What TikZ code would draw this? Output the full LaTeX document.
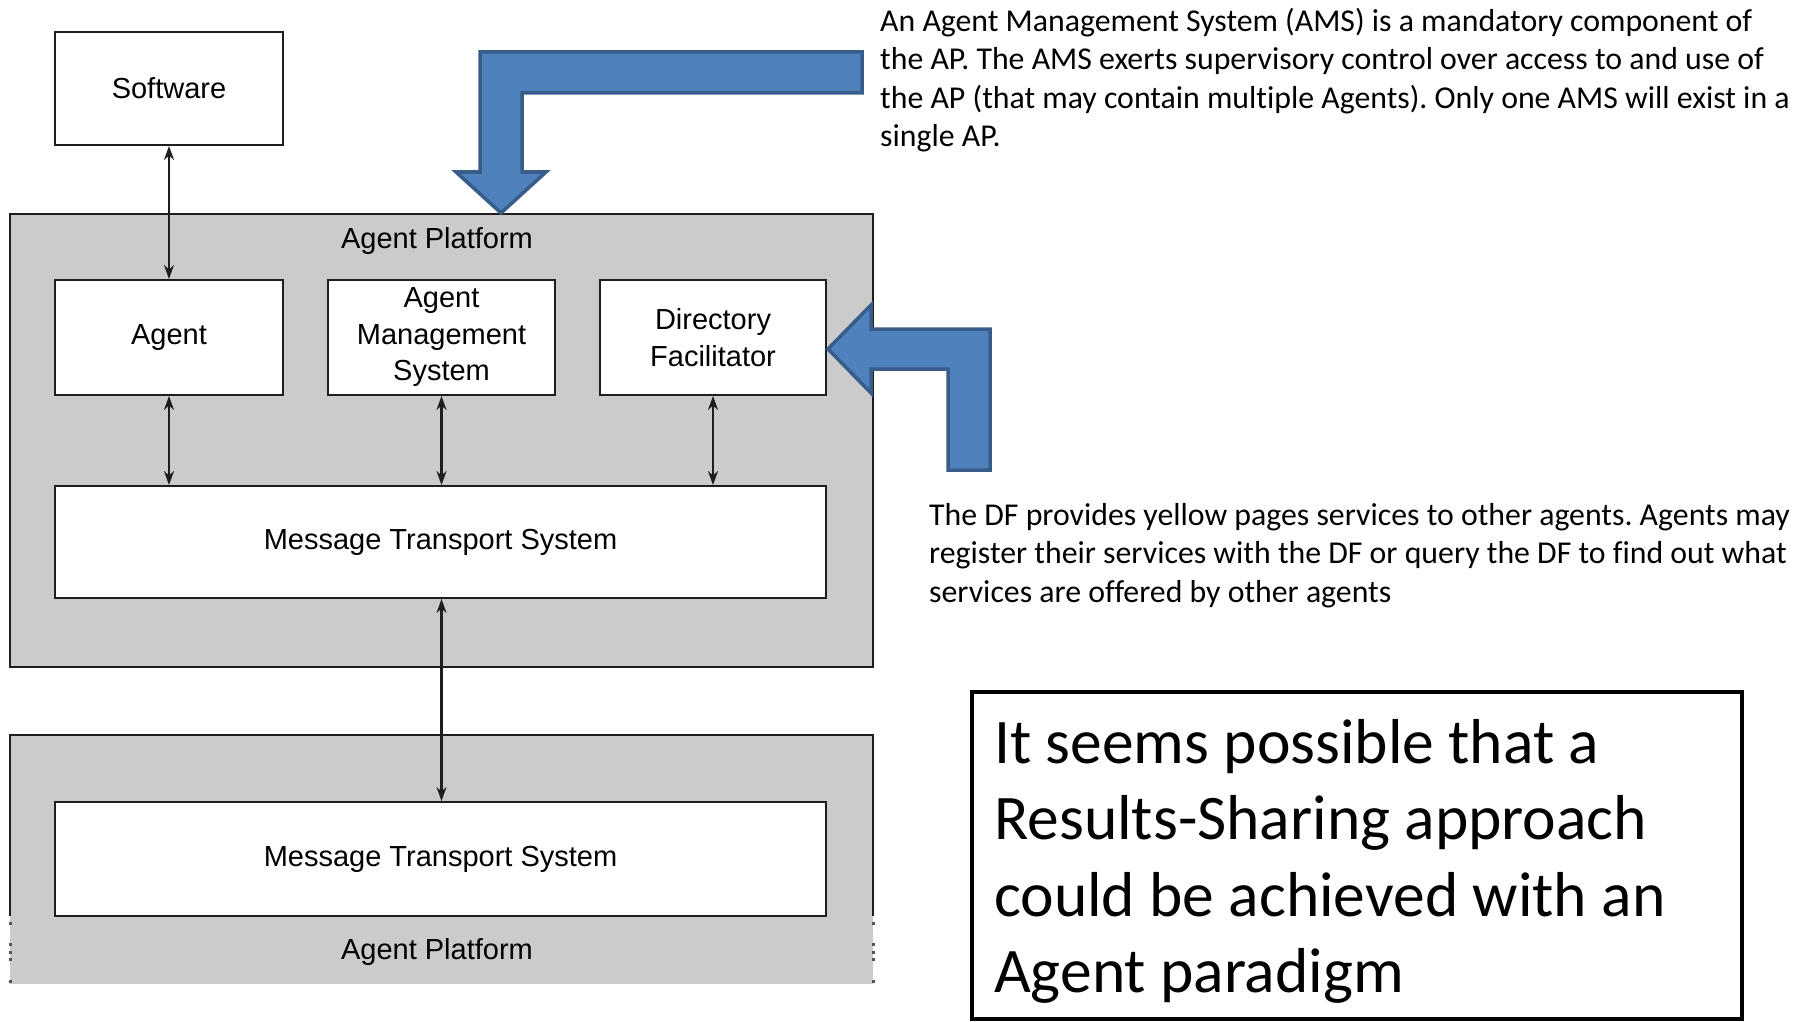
\documentclass[tikz,border=0pt]{standalone}
\usepackage{fontspec}
\setmainfont[Ligatures=NoCommon]{Carlito}
\newfontfamily\arialf{Liberation Sans}
\usetikzlibrary{arrows.meta}
\definecolor{platgray}{HTML}{CBCBCB}
\definecolor{blueA}{HTML}{4F81BD}
\definecolor{blueB}{HTML}{385D8A}
\definecolor{boxline}{HTML}{1E1E1E}
\definecolor{dotgray}{HTML}{555555}
\frenchspacing
\begin{document}
\begin{tikzpicture}[x=1pt,y=-1pt,
  comp/.style={draw=boxline, line width=2pt, fill=white, inner sep=0pt, font=\arialf\fontsize{29}{36.5}\selectfont, align=center},
  platbox/.style={draw=boxline, line width=2pt, fill=platgray, inner sep=0pt},
  plain/.style={inner sep=0pt, font=\arialf\fontsize{29}{35}\selectfont},
  link/.style={line width=2.2pt, draw=boxline, {Stealth[length=14pt,width=10pt]}-{Stealth[length=14pt,width=10pt]}},
  bigarrow/.style={fill=blueA, draw=blueB, line width=3.5pt, line join=miter},
  note/.style={anchor=base west, inner sep=0pt},
  ]
\useasboundingbox (0,0) rectangle (1802,1022);
\fill[white] (0,0) rectangle (1802,1022);

% top platform
\node[platbox, minimum width=863pt, minimum height=453pt] (plat1) at (441.5,440.5) {};
\node[plain] (plat1label) at (437,241.5) {Agent Platform};

% bottom platform
\node[fill=platgray, inner sep=0pt, minimum width=863pt, minimum height=249pt] (plat2) at (441.5,859.5) {};
\draw[boxline, line width=2pt] ([yshift=68pt]plat2.south west) -- (plat2.north west) -- (plat2.north east) -- ([yshift=68pt]plat2.south east);
\foreach \yy in {922,943,951,958,980} {
  \fill[dotgray] (8.5,\yy) rectangle (11.5,\yy+2.5);
  \fill[dotgray] (871.5,\yy) rectangle (874.5,\yy+2.5);
}
\node[plain] (plat2label) at (437,951.5) {Agent Platform};

% components
\node[comp, minimum width=228pt, minimum height=113pt] (soft) at (169,88.5) {Software};
\node[comp, minimum width=228pt, minimum height=115pt] (agent) at (169,337.5) {Agent};
\node[comp, minimum width=227pt, minimum height=115pt] (ams) at (441.5,337.5) {Agent\\Management\\System};
\node[comp, minimum width=226pt, minimum height=115pt] (df) at (713,337.5) {Directory\\Facilitator};
\node[comp, minimum width=771pt, minimum height=112pt] (mts1) at (440.5,542) {Message Transport System};
\node[comp, minimum width=771pt, minimum height=114pt] (mts2) at (440.5,859) {Message Transport System};

% connectors
\draw[link] (soft.south) -- (agent.north);
\draw[link] (agent.south) -- (agent.south |- mts1.north);
\draw[link] (ams.south) -- (ams.south |- mts1.north);
\draw[link] (df.south) -- (df.south |- mts1.north);
\draw[link] (ams.south |- mts1.south) -- (ams.south |- mts2.north);

% blue bent arrows
\draw[bigarrow] (862,52) -- (480,52) -- (480,172) -- (456,172) -- (501,213) -- (546,172) -- (522,172) -- (522,93) -- (862,93) -- cycle;
\draw[bigarrow] (828,349) -- (871,305) -- (871,329) -- (990,329) -- (990,470) -- (948,470) -- (948,369) -- (871,369) -- (871,393) -- cycle;

% notes
\node[note, font=\fontsize{31.8}{38.5}\selectfont] (amsnote) at (880,31.5) {\begin{tabular}[t]{@{}l@{}}An Agent Management System (AMS) is a mandatory component of\\the AP. The AMS exerts supervisory control over access to and use of\\the AP (that may contain multiple Agents). Only one AMS will exist in a\\single AP.\end{tabular}};
\node[note, font=\fontsize{31.8}{38.5}\selectfont] (dfnote) at (929,525) {\begin{tabular}[t]{@{}l@{}}The DF provides yellow pages services to other agents. Agents may\\register their services with the DF or query the DF to find out what\\services are offered by other agents\end{tabular}};

% conclusion box
\node[draw=black, line width=4pt, inner sep=0pt, minimum width=770pt, minimum height=327pt] (bigbox) at (1357,855.5) {};
\node[note, font=\fontsize{63.5}{76.5}\selectfont] (bigtext) at (994,763) {\begin{tabular}[t]{@{}l@{}}It seems possible that a\\Results-Sharing approach\\could be achieved with an\\Agent paradigm\end{tabular}};
\end{tikzpicture}
\end{document}
